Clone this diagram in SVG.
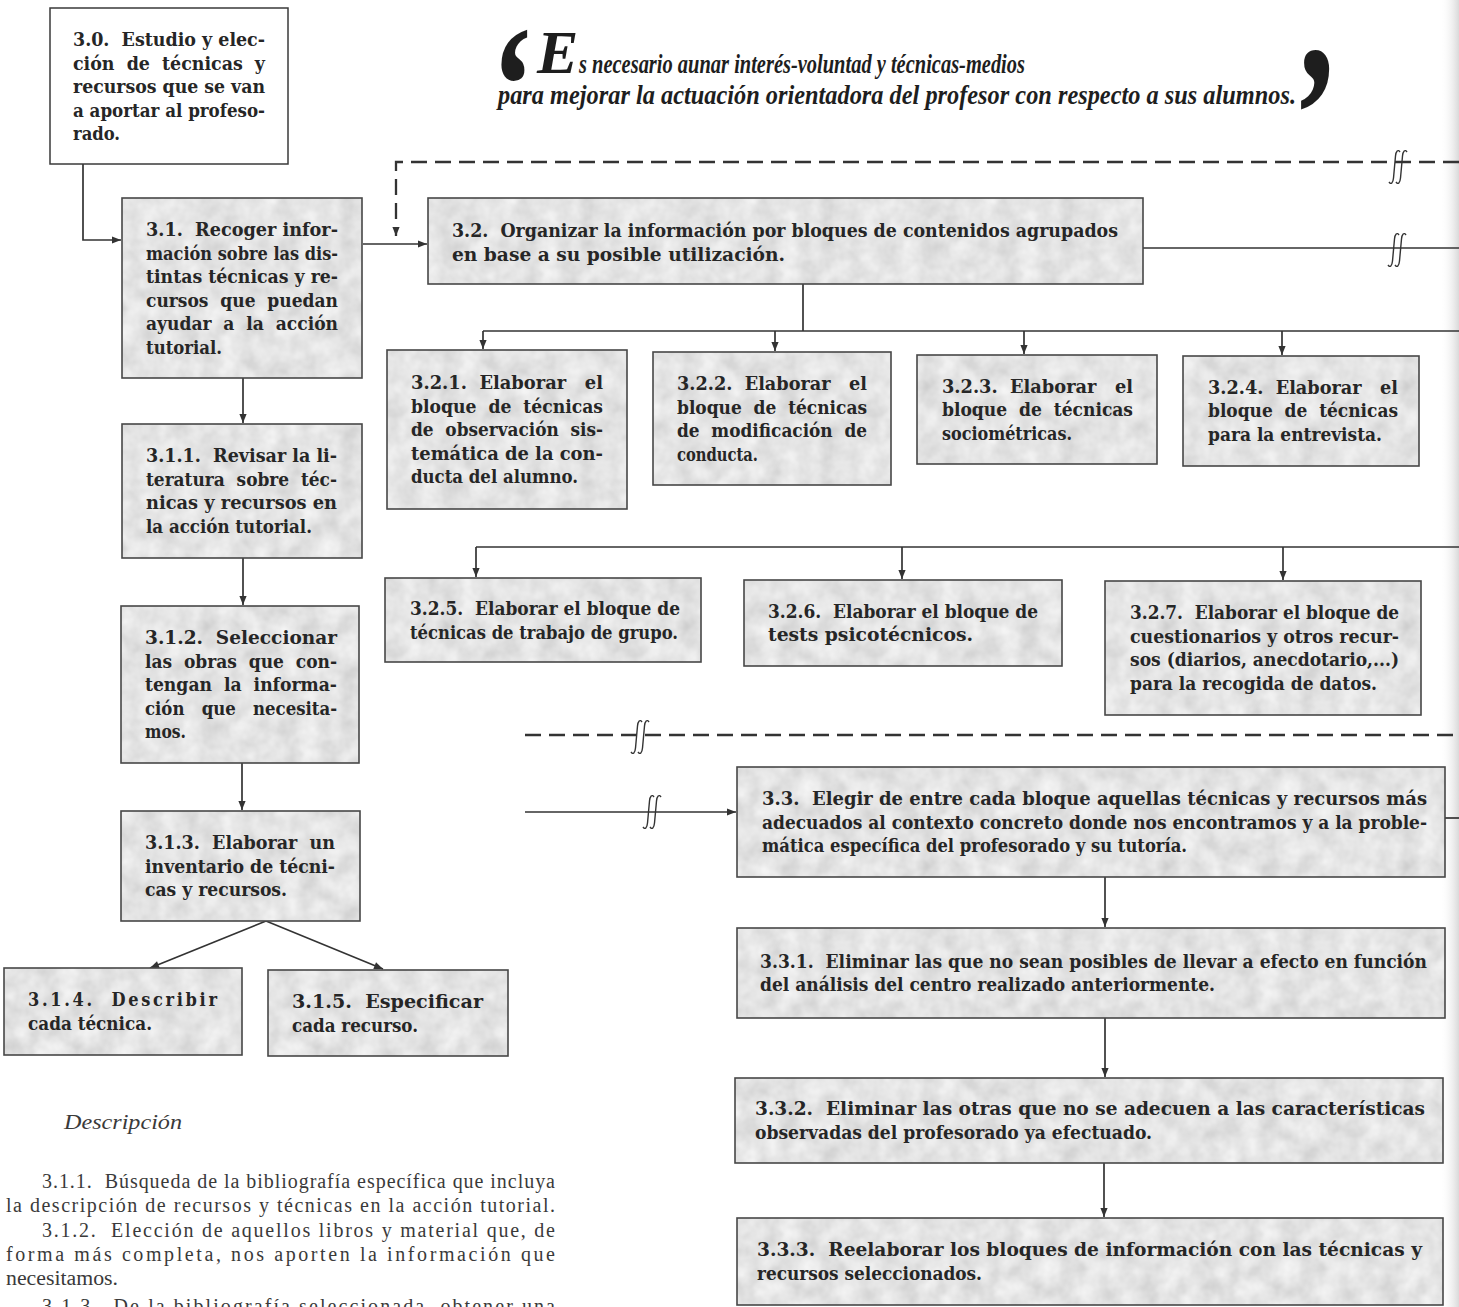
<svg xmlns="http://www.w3.org/2000/svg" width="1459" height="1307" viewBox="0 0 1459 1307">
<defs>
<style>
.box{fill:url(#grain);stroke:#474747;stroke-width:1.6}
.wbox{fill:#fff;stroke:#3a3a3a;stroke-width:1.5}
.t{font-family:"DejaVu Serif Condensed","DejaVu Serif",serif;font-stretch:condensed;font-weight:bold;font-size:18px;fill:#262626;white-space:pre}
.c{stroke:#333;stroke-width:1.7;fill:none}
.d{stroke:#333;stroke-width:2.3;fill:none;stroke-dasharray:16 8}
.brk{stroke:#333;stroke-width:1.4;fill:none}
.q{font-family:"Liberation Serif",serif;font-style:italic;fill:#1e1e1e}
.desc{font-family:"Liberation Serif",serif;font-size:20px;fill:#3a3a3a;white-space:pre}
</style>
<filter id="tex" x="0" y="0" width="100%" height="100%">
<feTurbulence type="fractalNoise" baseFrequency="0.05" numOctaves="3" seed="4" stitchTiles="stitch" result="n"/>
<feColorMatrix in="n" type="matrix" values="0.35 0 0 0 0.6  0.35 0 0 0 0.6  0.35 0 0 0 0.6  0 0 0 0 1"/>
</filter>
<pattern id="grain" patternUnits="userSpaceOnUse" width="240" height="240">
<rect width="240" height="240" fill="#c8c8c8" filter="url(#tex)"/>
</pattern>
<linearGradient id="gut" x1="0" x2="1" y1="0" y2="0">
<stop offset="0" stop-color="#ffffff" stop-opacity="0"/>
<stop offset="1" stop-color="#d9d9d9"/>
</linearGradient>
<marker id="ah" viewBox="0 0 10 10" refX="10" refY="5" markerWidth="10" markerHeight="9" markerUnits="userSpaceOnUse" orient="auto">
<path d="M0,1 L10,5 L0,9 z" fill="#333"/>
</marker>
<path id="brkp" d="M4,-15 C2,-18 0,-16 -0.5,-11 L-2.5,11 C-3,16 -5,18 -7,15 M11,-15 C9,-18 7,-16 6.5,-11 L4.5,11 C4,16 2,18 0,15"/>
</defs>

<rect x="0" y="0" width="1459" height="1307" fill="#ffffff"/>
<rect x="1440" y="0" width="19" height="1307" fill="url(#gut)"/>

<g id="quote">
<text class="q" font-weight="bold" font-style="normal" font-size="170" transform="translate(486,143) scale(0.8,1)">‘</text>
<text class="q" font-weight="bold" font-size="62" x="537" y="73">E</text>
<text class="q" font-weight="bold" font-size="27" x="579" y="73" textLength="446" lengthAdjust="spacingAndGlyphs">s necesario aunar interés-voluntad y técnicas-medios</text>
<text class="q" font-weight="bold" font-size="27" x="498" y="104" textLength="798" lengthAdjust="spacingAndGlyphs">para mejorar la actuación orientadora del profesor con respecto a sus alumnos.</text>
<text class="q" font-weight="bold" font-style="normal" font-size="198" transform="translate(1285,181) scale(0.75,1)">’</text>
</g>

<g id="connectors">
<path class="c" d="M83,164 V240 H121" marker-end="url(#ah)"/>
<path class="c" d="M363,244 H427" marker-end="url(#ah)"/>
<path class="d" d="M1459,162 H396 V236" marker-end="url(#ah)"/>
<path class="c" d="M1143,248 H1459"/>
<path class="c" d="M803,284 V331"/>
<path class="c" d="M483,331 H1459"/>
<path class="c" d="M483,331 V349" marker-end="url(#ah)"/>
<path class="c" d="M775,331 V351" marker-end="url(#ah)"/>
<path class="c" d="M1024,331 V354" marker-end="url(#ah)"/>
<path class="c" d="M1282,331 V355" marker-end="url(#ah)"/>
<path class="c" d="M476,547 H1459"/>
<path class="c" d="M476,547 V577" marker-end="url(#ah)"/>
<path class="c" d="M902,547 V579" marker-end="url(#ah)"/>
<path class="c" d="M1283,547 V580" marker-end="url(#ah)"/>
<path class="d" d="M525,735 H1459"/>
<path class="c" d="M525,812 H736" marker-end="url(#ah)"/>
<path class="c" d="M1445,818 H1459"/>
<path class="c" d="M1105,877 V927" marker-end="url(#ah)"/>
<path class="c" d="M1105,1018 V1077" marker-end="url(#ah)"/>
<path class="c" d="M1104,1163 V1217" marker-end="url(#ah)"/>
<path class="c" d="M243,378 V423" marker-end="url(#ah)"/>
<path class="c" d="M243,558 V605" marker-end="url(#ah)"/>
<path class="c" d="M242,763 V810" marker-end="url(#ah)"/>
<path class="c" d="M266,921 L150,968" marker-end="url(#ah)"/>
<path class="c" d="M266,921 L383,969" marker-end="url(#ah)"/>
<use href="#brkp" class="brk" x="1396" y="167"/>
<use href="#brkp" class="brk" x="1395" y="250"/>
<use href="#brkp" class="brk" x="638" y="737"/>
<use href="#brkp" class="brk" x="650" y="812"/>
</g>

<g id="n3_0">
<rect class="wbox" x="50" y="8" width="238" height="156"/>
<text class="t" x="73" y="46" textLength="192" lengthAdjust="spacingAndGlyphs">3.0.  Estudio y elec-</text>
<text class="t" x="73" y="69.5" textLength="192" lengthAdjust="spacingAndGlyphs">ción  de  técnicas  y</text>
<text class="t" x="73" y="93" textLength="192" lengthAdjust="spacingAndGlyphs">recursos que se van</text>
<text class="t" x="73" y="116.5" textLength="192" lengthAdjust="spacingAndGlyphs">a aportar al profeso-</text>
<text class="t" x="73" y="140" textLength="47" lengthAdjust="spacingAndGlyphs">rado.</text>
</g>

<g id="n3_1">
<rect class="box" x="122" y="198" width="240" height="180"/>
<text class="t" x="146" y="236" textLength="192" lengthAdjust="spacingAndGlyphs">3.1.  Recoger infor-</text>
<text class="t" x="146" y="259.5" textLength="192" lengthAdjust="spacingAndGlyphs">mación sobre las dis-</text>
<text class="t" x="146" y="283" textLength="192" lengthAdjust="spacingAndGlyphs">tintas técnicas y re-</text>
<text class="t" x="146" y="306.5" textLength="192" lengthAdjust="spacingAndGlyphs">cursos  que  puedan</text>
<text class="t" x="146" y="330" textLength="192" lengthAdjust="spacingAndGlyphs">ayudar  a  la  acción</text>
<text class="t" x="146" y="353.5" textLength="76" lengthAdjust="spacingAndGlyphs">tutorial.</text>
</g>

<g id="n3_1_1">
<rect class="box" x="122" y="424" width="240" height="134"/>
<text class="t" x="146" y="462" textLength="191" lengthAdjust="spacingAndGlyphs">3.1.1.  Revisar la li-</text>
<text class="t" x="146" y="485.5" textLength="191" lengthAdjust="spacingAndGlyphs">teratura  sobre  téc-</text>
<text class="t" x="146" y="509" textLength="191" lengthAdjust="spacingAndGlyphs">nicas y recursos en</text>
<text class="t" x="146" y="532.5" textLength="166" lengthAdjust="spacingAndGlyphs">la acción tutorial.</text>
</g>

<g id="n3_1_2">
<rect class="box" x="121" y="606" width="238" height="157"/>
<text class="t" x="145" y="644" textLength="192" lengthAdjust="spacingAndGlyphs">3.1.2.  Seleccionar</text>
<text class="t" x="145" y="667.5" textLength="192" lengthAdjust="spacingAndGlyphs">las  obras  que  con-</text>
<text class="t" x="145" y="691" textLength="192" lengthAdjust="spacingAndGlyphs">tengan  la  informa-</text>
<text class="t" x="145" y="714.5" textLength="192" lengthAdjust="spacingAndGlyphs">ción   que   necesita-</text>
<text class="t" x="145" y="738" textLength="41" lengthAdjust="spacingAndGlyphs">mos.</text>
</g>

<g id="n3_1_3">
<rect class="box" x="121" y="811" width="239" height="110"/>
<text class="t" x="145" y="849" textLength="190" lengthAdjust="spacingAndGlyphs">3.1.3.  Elaborar  un</text>
<text class="t" x="145" y="872.5" textLength="190" lengthAdjust="spacingAndGlyphs">inventario de técni-</text>
<text class="t" x="145" y="896" textLength="142" lengthAdjust="spacingAndGlyphs">cas y recursos.</text>
</g>

<g id="n3_1_4">
<rect class="box" x="4" y="968" width="238" height="87"/>
<text class="t" x="28" y="1006" textLength="189" lengthAdjust="spacing">3.1.4.  Describir</text>
<text class="t" x="28" y="1029.5" textLength="124" lengthAdjust="spacingAndGlyphs">cada técnica.</text>
</g>

<g id="n3_1_5">
<rect class="box" x="268" y="970" width="240" height="86"/>
<text class="t" x="292" y="1008" textLength="191" lengthAdjust="spacingAndGlyphs">3.1.5.  Especificar</text>
<text class="t" x="292" y="1031.5" textLength="126" lengthAdjust="spacingAndGlyphs">cada recurso.</text>
</g>

<g id="n3_2">
<rect class="box" x="428" y="198" width="715" height="86"/>
<text class="t" x="452" y="237" textLength="666" lengthAdjust="spacingAndGlyphs">3.2.  Organizar la información por bloques de contenidos agrupados</text>
<text class="t" x="452" y="261" textLength="333" lengthAdjust="spacingAndGlyphs">en base a su posible utilización.</text>
</g>

<g id="n3_2_1">
<rect class="box" x="387" y="350" width="240" height="159"/>
<text class="t" x="411" y="389" textLength="192" lengthAdjust="spacingAndGlyphs">3.2.1.  Elaborar   el</text>
<text class="t" x="411" y="412.5" textLength="192" lengthAdjust="spacingAndGlyphs">bloque  de  técnicas</text>
<text class="t" x="411" y="436" textLength="192" lengthAdjust="spacingAndGlyphs">de  observación  sis-</text>
<text class="t" x="411" y="459.5" textLength="192" lengthAdjust="spacingAndGlyphs">temática de la con-</text>
<text class="t" x="411" y="483" textLength="167" lengthAdjust="spacingAndGlyphs">ducta del alumno.</text>
</g>

<g id="n3_2_2">
<rect class="box" x="653" y="352" width="238" height="133"/>
<text class="t" x="677" y="390" textLength="190" lengthAdjust="spacingAndGlyphs">3.2.2.  Elaborar   el</text>
<text class="t" x="677" y="413.5" textLength="190" lengthAdjust="spacingAndGlyphs">bloque  de  técnicas</text>
<text class="t" x="677" y="437" textLength="190" lengthAdjust="spacingAndGlyphs">de  modificación  de</text>
<text class="t" x="677" y="460.5" textLength="81" lengthAdjust="spacingAndGlyphs">conducta.</text>
</g>

<g id="n3_2_3">
<rect class="box" x="917" y="355" width="240" height="109"/>
<text class="t" x="942" y="392.5" textLength="191" lengthAdjust="spacingAndGlyphs">3.2.3.  Elaborar   el</text>
<text class="t" x="942" y="416" textLength="191" lengthAdjust="spacingAndGlyphs">bloque  de  técnicas</text>
<text class="t" x="942" y="439.5" textLength="130" lengthAdjust="spacingAndGlyphs">sociométricas.</text>
</g>

<g id="n3_2_4">
<rect class="box" x="1183" y="356" width="236" height="110"/>
<text class="t" x="1208" y="393.5" textLength="190" lengthAdjust="spacingAndGlyphs">3.2.4.  Elaborar   el</text>
<text class="t" x="1208" y="417" textLength="190" lengthAdjust="spacingAndGlyphs">bloque  de  técnicas</text>
<text class="t" x="1208" y="440.5" textLength="174" lengthAdjust="spacingAndGlyphs">para la entrevista.</text>
</g>

<g id="n3_2_5">
<rect class="box" x="385" y="578" width="316" height="84"/>
<text class="t" x="410" y="615" textLength="270" lengthAdjust="spacingAndGlyphs">3.2.5.  Elaborar el bloque de</text>
<text class="t" x="410" y="638.5" textLength="268" lengthAdjust="spacingAndGlyphs">técnicas de trabajo de grupo.</text>
</g>

<g id="n3_2_6">
<rect class="box" x="744" y="580" width="318" height="86"/>
<text class="t" x="768" y="617.5" textLength="270" lengthAdjust="spacingAndGlyphs">3.2.6.  Elaborar el bloque de</text>
<text class="t" x="768" y="641" textLength="205" lengthAdjust="spacingAndGlyphs">tests psicotécnicos.</text>
</g>

<g id="n3_2_7">
<rect class="box" x="1105" y="581" width="316" height="134"/>
<text class="t" x="1130" y="619" textLength="269" lengthAdjust="spacingAndGlyphs">3.2.7.  Elaborar el bloque de</text>
<text class="t" x="1130" y="642.5" textLength="269" lengthAdjust="spacingAndGlyphs">cuestionarios y otros recur-</text>
<text class="t" x="1130" y="666" textLength="269" lengthAdjust="spacingAndGlyphs">sos (diarios, anecdotario,...)</text>
<text class="t" x="1130" y="689.5" textLength="247" lengthAdjust="spacingAndGlyphs">para la recogida de datos.</text>
</g>

<g id="n3_3">
<rect class="box" x="737" y="767" width="708" height="110"/>
<text class="t" x="762" y="805" textLength="665" lengthAdjust="spacingAndGlyphs">3.3.  Elegir de entre cada bloque aquellas técnicas y recursos más</text>
<text class="t" x="762" y="828.5" textLength="665" lengthAdjust="spacingAndGlyphs">adecuados al contexto concreto donde nos encontramos y a la proble-</text>
<text class="t" x="762" y="852" textLength="425" lengthAdjust="spacingAndGlyphs">mática específica del profesorado y su tutoría.</text>
</g>

<g id="n3_3_1">
<rect class="box" x="737" y="928" width="708" height="90"/>
<text class="t" x="760" y="967.5" textLength="667" lengthAdjust="spacingAndGlyphs">3.3.1.  Eliminar las que no sean posibles de llevar a efecto en función</text>
<text class="t" x="760" y="991" textLength="455" lengthAdjust="spacingAndGlyphs">del análisis del centro realizado anteriormente.</text>
</g>

<g id="n3_3_2">
<rect class="box" x="735" y="1078" width="708" height="85"/>
<text class="t" x="755" y="1115" textLength="670" lengthAdjust="spacingAndGlyphs">3.3.2.  Eliminar las otras que no se adecuen a las características</text>
<text class="t" x="755" y="1138.5" textLength="397" lengthAdjust="spacingAndGlyphs">observadas del profesorado ya efectuado.</text>
</g>

<g id="n3_3_3">
<rect class="box" x="737" y="1218" width="706" height="87"/>
<text class="t" x="757" y="1256" textLength="665" lengthAdjust="spacingAndGlyphs">3.3.3.  Reelaborar los bloques de información con las técnicas y</text>
<text class="t" x="757" y="1279.5" textLength="225" lengthAdjust="spacingAndGlyphs">recursos seleccionados.</text>
</g>

<g id="descripcion">
<text class="desc" font-style="italic" x="64" y="1129" textLength="118" lengthAdjust="spacingAndGlyphs">Descripción</text>
<text class="desc" x="42" y="1188" textLength="513" lengthAdjust="spacing">3.1.1.  Búsqueda de la bibliografía específica que incluya</text>
<text class="desc" x="6" y="1212" textLength="549" lengthAdjust="spacing">la descripción de recursos y técnicas en la acción tutorial.</text>
<text class="desc" x="42" y="1237" textLength="513" lengthAdjust="spacing">3.1.2.  Elección de aquellos libros y material que, de</text>
<text class="desc" x="6" y="1261" textLength="549" lengthAdjust="spacing">forma más completa, nos aporten la información que</text>
<text class="desc" x="6" y="1285" textLength="112" lengthAdjust="spacingAndGlyphs">necesitamos.</text>
<text class="desc" x="42" y="1313" textLength="513" lengthAdjust="spacing">3.1.3.  De la bibliografía seleccionada, obtener una</text>
</g>
</svg>
